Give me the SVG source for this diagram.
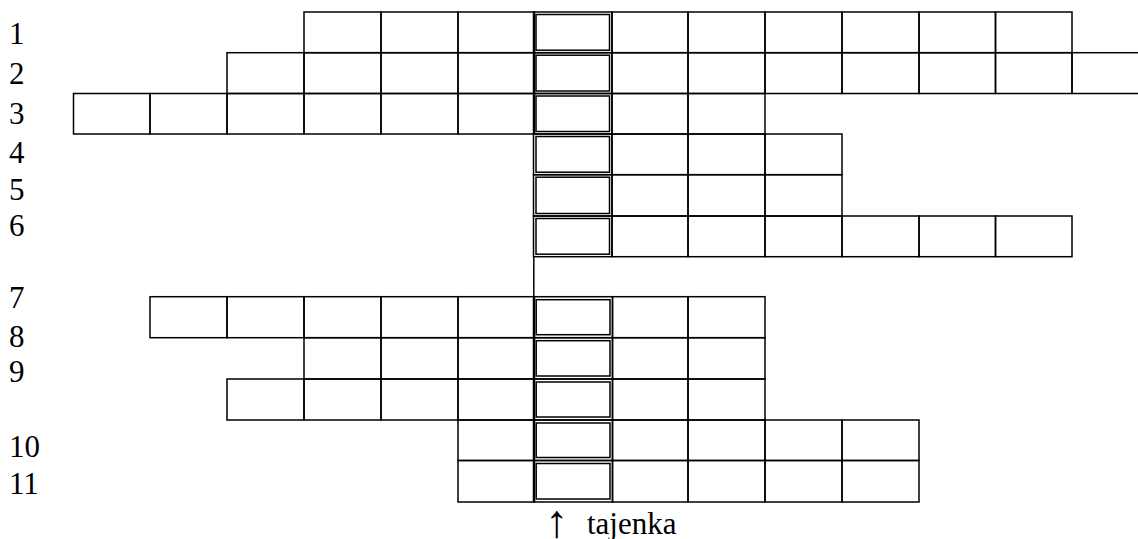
<svg xmlns="http://www.w3.org/2000/svg" width="1138" height="539" viewBox="0 0 1138 539">
<style>
.c{fill:none;stroke:#000;stroke-width:1.5}
.to{fill:none;stroke:#000;stroke-width:1.5}
.ti{fill:none;stroke:#000;stroke-width:1.5}
.lbl{font-family:"Liberation Serif","Times New Roman",serif;font-size:31px;fill:#000}
.cap{font-family:"Liberation Serif","Times New Roman",serif;font-size:31px;fill:#000}
.arr{font-size:46px}
</style>
<rect width="1138" height="539" fill="#fff"/>
<g id="labels">
<text class="lbl" x="9" y="44">1</text>
<text class="lbl" x="9" y="84">2</text>
<text class="lbl" x="9" y="124">3</text>
<text class="lbl" x="9" y="163">4</text>
<text class="lbl" x="9" y="200">5</text>
<text class="lbl" x="9" y="236">6</text>
<text class="lbl" x="9" y="308">7</text>
<text class="lbl" x="9" y="347">8</text>
<text class="lbl" x="9" y="382">9</text>
<text class="lbl" x="9" y="457">10</text>
<text class="lbl" x="9" y="494">11</text>
</g>
<g id="row1">
<rect class="c" x="304" y="12" width="77" height="40.7"/>
<rect class="c" x="381" y="12" width="77" height="40.7"/>
<rect class="c" x="458" y="12" width="76.5" height="40.7"/>
<rect class="to" x="533.5" y="12" width="78.5" height="40.7"/><rect class="ti" x="536" y="14.5" width="73.5" height="35.7"/>
<rect class="c" x="612" y="12" width="76" height="40.7"/>
<rect class="c" x="688" y="12" width="77" height="40.7"/>
<rect class="c" x="765" y="12" width="77" height="40.7"/>
<rect class="c" x="842" y="12" width="77" height="40.7"/>
<rect class="c" x="919" y="12" width="76.5" height="40.7"/>
<rect class="c" x="995.5" y="12" width="76.5" height="40.7"/>
</g>
<g id="row2">
<rect class="c" x="227" y="52.7" width="77" height="40.8"/>
<rect class="c" x="304" y="52.7" width="77" height="40.8"/>
<rect class="c" x="381" y="52.7" width="77" height="40.8"/>
<rect class="c" x="458" y="52.7" width="76.5" height="40.8"/>
<rect class="to" x="533.5" y="52.7" width="78.5" height="40.8"/><rect class="ti" x="536" y="55.2" width="73.5" height="35.8"/>
<rect class="c" x="612" y="52.7" width="76" height="40.8"/>
<rect class="c" x="688" y="52.7" width="77" height="40.8"/>
<rect class="c" x="765" y="52.7" width="77" height="40.8"/>
<rect class="c" x="842" y="52.7" width="77" height="40.8"/>
<rect class="c" x="919" y="52.7" width="76.5" height="40.8"/>
<rect class="c" x="995.5" y="52.7" width="76.5" height="40.8"/>
<rect class="c" x="1072" y="52.7" width="77" height="40.8"/>
</g>
<g id="row3">
<rect class="c" x="73.5" y="93.5" width="76.5" height="40.5"/>
<rect class="c" x="150" y="93.5" width="77" height="40.5"/>
<rect class="c" x="227" y="93.5" width="77" height="40.5"/>
<rect class="c" x="304" y="93.5" width="77" height="40.5"/>
<rect class="c" x="381" y="93.5" width="77" height="40.5"/>
<rect class="c" x="458" y="93.5" width="76.5" height="40.5"/>
<rect class="to" x="533.5" y="93.5" width="78.5" height="40.5"/><rect class="ti" x="536" y="96" width="73.5" height="35.5"/>
<rect class="c" x="612" y="93.5" width="76" height="40.5"/>
<rect class="c" x="688" y="93.5" width="77" height="40.5"/>
</g>
<g id="row4">
<rect class="to" x="533.5" y="134" width="78.5" height="40.7"/><rect class="ti" x="536" y="136.5" width="73.5" height="35.7"/>
<rect class="c" x="612" y="134" width="76" height="40.7"/>
<rect class="c" x="688" y="134" width="77" height="40.7"/>
<rect class="c" x="765" y="134" width="77" height="40.7"/>
</g>
<g id="row5">
<rect class="to" x="533.5" y="174.7" width="78.5" height="41.3"/><rect class="ti" x="536" y="177.2" width="73.5" height="36.3"/>
<rect class="c" x="612" y="174.7" width="76" height="41.3"/>
<rect class="c" x="688" y="174.7" width="77" height="41.3"/>
<rect class="c" x="765" y="174.7" width="77" height="41.3"/>
</g>
<g id="row6">
<rect class="to" x="533.5" y="216" width="78.5" height="40.7"/><rect class="ti" x="536" y="218.5" width="73.5" height="35.7"/>
<rect class="c" x="612" y="216" width="76" height="40.7"/>
<rect class="c" x="688" y="216" width="77" height="40.7"/>
<rect class="c" x="765" y="216" width="77" height="40.7"/>
<rect class="c" x="842" y="216" width="77" height="40.7"/>
<rect class="c" x="919" y="216" width="76.5" height="40.7"/>
<rect class="c" x="995.5" y="216" width="76.5" height="40.7"/>
</g>
<g id="connectors">
<line class="c" x1="533.8" y1="256.7" x2="533.8" y2="296.7"/>
</g>
<g id="row7">
<rect class="c" x="150" y="296.7" width="77" height="41"/>
<rect class="c" x="227" y="296.7" width="77" height="41"/>
<rect class="c" x="304" y="296.7" width="77" height="41"/>
<rect class="c" x="381" y="296.7" width="77" height="41"/>
<rect class="c" x="458" y="296.7" width="76.5" height="41"/>
<rect class="to" x="533.5" y="296.7" width="79" height="41"/><rect class="ti" x="536.2" y="299.7" width="73.8" height="35"/>
<rect class="c" x="612.5" y="296.7" width="75.5" height="41"/>
<rect class="c" x="688" y="296.7" width="77" height="41"/>
</g>
<g id="row8">
<rect class="c" x="304" y="337.7" width="77" height="41.3"/>
<rect class="c" x="381" y="337.7" width="77" height="41.3"/>
<rect class="c" x="458" y="337.7" width="76.5" height="41.3"/>
<rect class="to" x="533.5" y="337.7" width="79" height="41.3"/><rect class="ti" x="536.2" y="340.7" width="73.8" height="35.3"/>
<rect class="c" x="612.5" y="337.7" width="75.5" height="41.3"/>
<rect class="c" x="688" y="337.7" width="77" height="41.3"/>
</g>
<g id="row9">
<rect class="c" x="227" y="379" width="77" height="41"/>
<rect class="c" x="304" y="379" width="77" height="41"/>
<rect class="c" x="381" y="379" width="77" height="41"/>
<rect class="c" x="458" y="379" width="76.5" height="41"/>
<rect class="to" x="533.5" y="379" width="79" height="41"/><rect class="ti" x="536.2" y="382" width="73.8" height="35"/>
<rect class="c" x="612.5" y="379" width="75.5" height="41"/>
<rect class="c" x="688" y="379" width="77" height="41"/>
</g>
<g id="row10">
<rect class="c" x="458" y="420" width="76.5" height="40.5"/>
<rect class="to" x="533.5" y="420" width="79" height="40.5"/><rect class="ti" x="536.2" y="423" width="73.8" height="34.5"/>
<rect class="c" x="612.5" y="420" width="75.5" height="40.5"/>
<rect class="c" x="688" y="420" width="77" height="40.5"/>
<rect class="c" x="765" y="420" width="77" height="40.5"/>
<rect class="c" x="842" y="420" width="77" height="40.5"/>
</g>
<g id="row11">
<rect class="c" x="458" y="460.5" width="76.5" height="41.5"/>
<rect class="to" x="533.5" y="460.5" width="79" height="41.5"/><rect class="ti" x="536.2" y="463.5" width="73.8" height="35.5"/>
<rect class="c" x="612.5" y="460.5" width="75.5" height="41.5"/>
<rect class="c" x="688" y="460.5" width="77" height="41.5"/>
<rect class="c" x="765" y="460.5" width="77" height="41.5"/>
<rect class="c" x="842" y="460.5" width="77" height="41.5"/>
</g>
<g id="caption">
<text class="cap" y="534"><tspan class="arr" x="545" y="537">↑</tspan><tspan x="587" y="534">tajenka</tspan></text>
</g>
</svg>
